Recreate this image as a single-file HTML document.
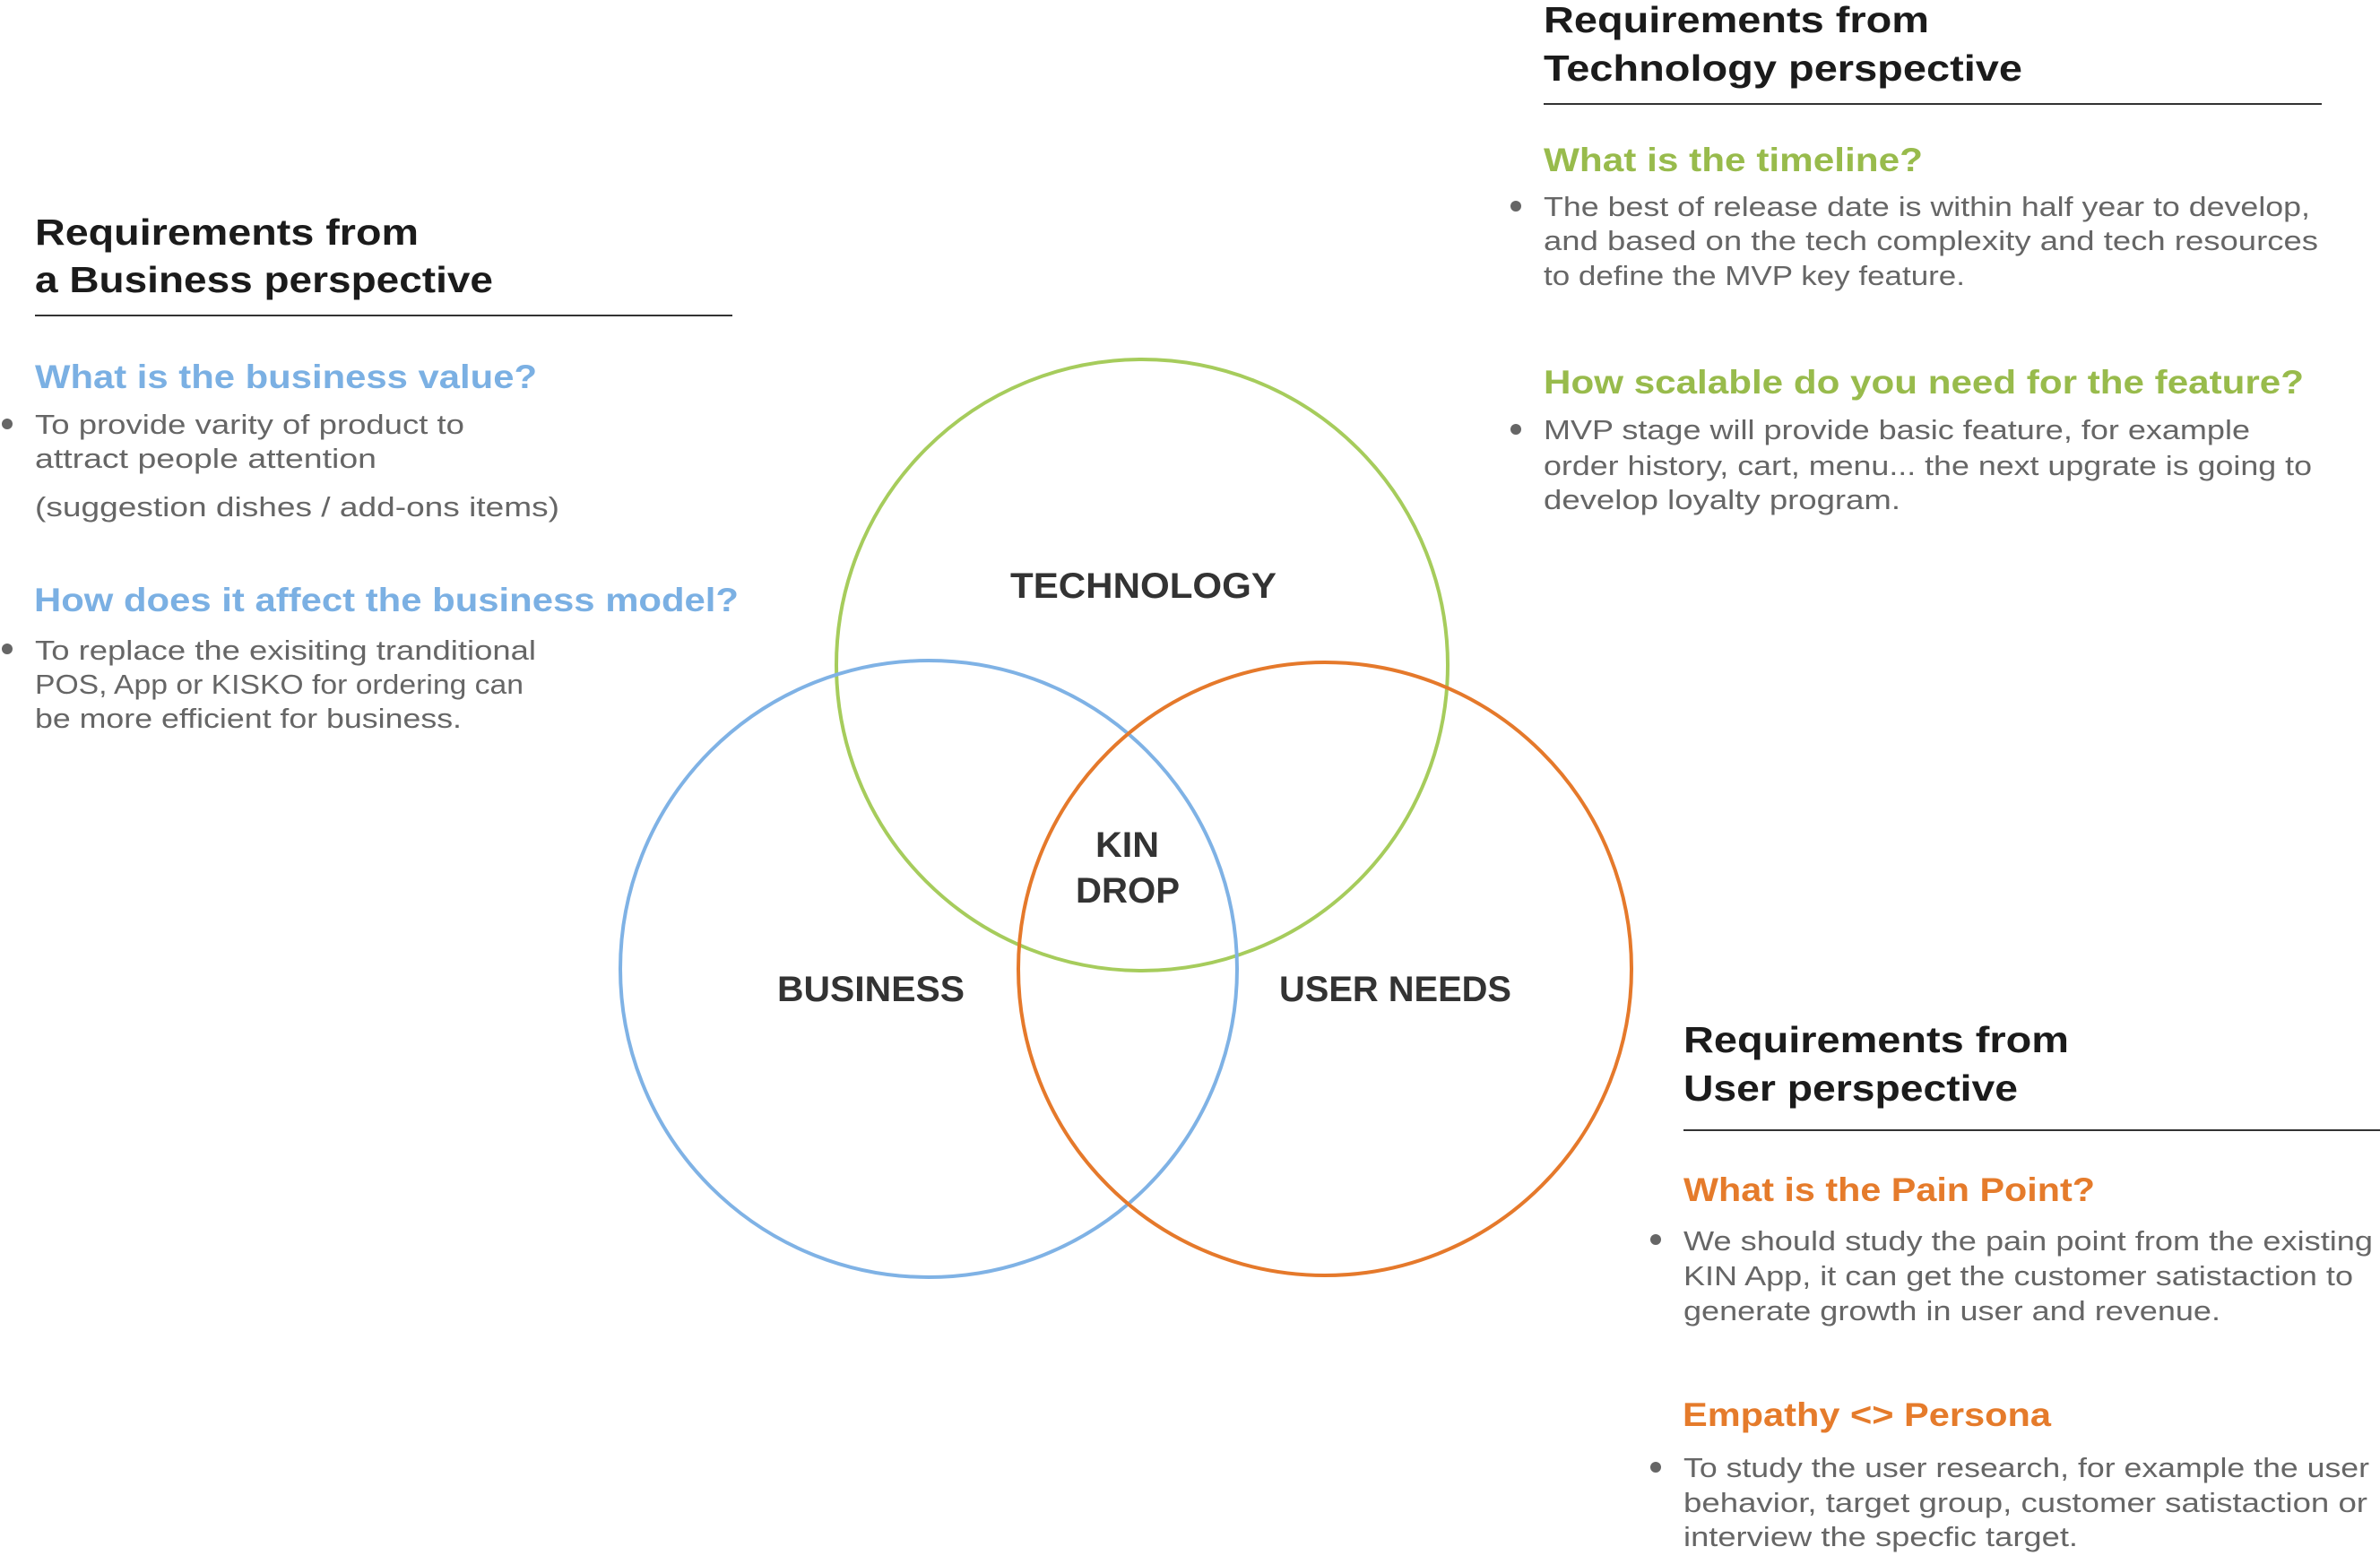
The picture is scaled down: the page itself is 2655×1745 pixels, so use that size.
<!DOCTYPE html>
<html><head><meta charset="utf-8"><style>
html,body{margin:0;padding:0;background:#fff;}
svg{display:block;}
.h{font-family:"Liberation Sans",sans-serif;font-weight:bold;font-size:41px;fill:#1b1b1b;}
.s{font-family:"Liberation Sans",sans-serif;font-weight:bold;font-size:37px;}
.b{font-family:"Liberation Sans",sans-serif;font-size:31px;fill:#666;}
.v{font-family:"Liberation Sans",sans-serif;font-weight:bold;font-size:40px;fill:#333;}
</style></head><body>
<svg width="2655" height="1745" viewBox="0 0 2655 1745" xmlns="http://www.w3.org/2000/svg">
<g fill="none" stroke-width="4">
<circle cx="1274" cy="742" r="341" stroke="#a6cc5c"/>
<circle cx="1036" cy="1081" r="344" stroke="#7fb2e5"/>
<circle cx="1478" cy="1081" r="342" stroke="#e5792b"/>
</g>
<text class="v" x="1127" y="667" textLength="297" lengthAdjust="spacingAndGlyphs">TECHNOLOGY</text>
<text class="v" x="867" y="1117" textLength="209" lengthAdjust="spacingAndGlyphs">BUSINESS</text>
<text class="v" x="1427" y="1117" textLength="259" lengthAdjust="spacingAndGlyphs">USER NEEDS</text>
<text class="v" x="1222" y="956" textLength="71" lengthAdjust="spacingAndGlyphs">KIN</text>
<text class="v" x="1200" y="1007" textLength="116" lengthAdjust="spacingAndGlyphs">DROP</text>

<!-- Business -->
<text class="h" x="39" y="273" textLength="428" lengthAdjust="spacingAndGlyphs">Requirements from</text>
<text class="h" x="39" y="326" textLength="511" lengthAdjust="spacingAndGlyphs">a Business perspective</text>
<rect x="39" y="351" width="778" height="2" fill="#333"/>
<text class="s" fill="#7bb0e3" x="39" y="433" textLength="560" lengthAdjust="spacingAndGlyphs">What is the business value?</text>
<circle cx="8" cy="473" r="6" fill="#666"/>
<text class="b" x="39" y="484" textLength="479" lengthAdjust="spacingAndGlyphs">To provide varity of product to</text>
<text class="b" x="39" y="522" textLength="381" lengthAdjust="spacingAndGlyphs">attract people attention</text>
<text class="b" x="39" y="576" textLength="585" lengthAdjust="spacingAndGlyphs">(suggestion dishes / add-ons items)</text>
<text class="s" fill="#7bb0e3" x="38" y="682" textLength="786" lengthAdjust="spacingAndGlyphs">How does it affect the business model?</text>
<circle cx="8" cy="724" r="6" fill="#666"/>
<text class="b" x="39" y="736" textLength="559" lengthAdjust="spacingAndGlyphs">To replace the exisiting tranditional</text>
<text class="b" x="39" y="774" textLength="545" lengthAdjust="spacingAndGlyphs">POS, App or KISKO for ordering can</text>
<text class="b" x="39" y="812" textLength="476" lengthAdjust="spacingAndGlyphs">be more efficient for business.</text>

<!-- Technology -->
<text class="h" x="1722" y="36" textLength="430" lengthAdjust="spacingAndGlyphs">Requirements from</text>
<text class="h" x="1722" y="90" textLength="534" lengthAdjust="spacingAndGlyphs">Technology perspective</text>
<rect x="1722" y="115" width="868" height="2" fill="#333"/>
<text class="s" fill="#98bb4c" x="1722" y="191" textLength="423" lengthAdjust="spacingAndGlyphs">What is the timeline?</text>
<circle cx="1691" cy="230" r="6" fill="#666"/>
<text class="b" x="1722" y="241" textLength="855" lengthAdjust="spacingAndGlyphs">The best of release date is within half year to develop,</text>
<text class="b" x="1722" y="279" textLength="864" lengthAdjust="spacingAndGlyphs">and based on the tech complexity and tech resources</text>
<text class="b" x="1722" y="318" textLength="470" lengthAdjust="spacingAndGlyphs">to define the MVP key feature.</text>
<text class="s" fill="#98bb4c" x="1722" y="439" textLength="848" lengthAdjust="spacingAndGlyphs">How scalable do you need for the feature?</text>
<circle cx="1691" cy="479" r="6" fill="#666"/>
<text class="b" x="1722" y="490" textLength="788" lengthAdjust="spacingAndGlyphs">MVP stage will provide basic feature,  for example</text>
<text class="b" x="1722" y="530" textLength="857" lengthAdjust="spacingAndGlyphs">order history, cart, menu... the next upgrate is going to</text>
<text class="b" x="1722" y="568" textLength="398" lengthAdjust="spacingAndGlyphs">develop loyalty program.</text>

<!-- User -->
<text class="h" x="1878" y="1174" textLength="430" lengthAdjust="spacingAndGlyphs">Requirements from</text>
<text class="h" x="1878" y="1228" textLength="373" lengthAdjust="spacingAndGlyphs">User perspective</text>
<rect x="1878" y="1260" width="777" height="2" fill="#333"/>
<text class="s" fill="#e57b2b" x="1878" y="1340" textLength="459" lengthAdjust="spacingAndGlyphs">What is the Pain Point?</text>
<circle cx="1847" cy="1383" r="6" fill="#666"/>
<text class="b" x="1878" y="1395" textLength="769" lengthAdjust="spacingAndGlyphs">We should study the pain point from the existing</text>
<text class="b" x="1878" y="1434" textLength="747" lengthAdjust="spacingAndGlyphs">KIN App, it can get the customer satistaction to</text>
<text class="b" x="1878" y="1473" textLength="599" lengthAdjust="spacingAndGlyphs">generate growth in user and revenue.</text>
<text class="s" fill="#e57b2b" x="1877" y="1591" textLength="411" lengthAdjust="spacingAndGlyphs">Empathy &lt;&gt; Persona</text>
<circle cx="1847" cy="1637" r="6" fill="#666"/>
<text class="b" x="1878" y="1648" textLength="765" lengthAdjust="spacingAndGlyphs">To study the user research, for example the user</text>
<text class="b" x="1878" y="1687" textLength="763" lengthAdjust="spacingAndGlyphs">behavior, target group, customer satistaction or</text>
<text class="b" x="1878" y="1725" textLength="440" lengthAdjust="spacingAndGlyphs">interview the specfic target.</text>
</svg>
</body></html>
